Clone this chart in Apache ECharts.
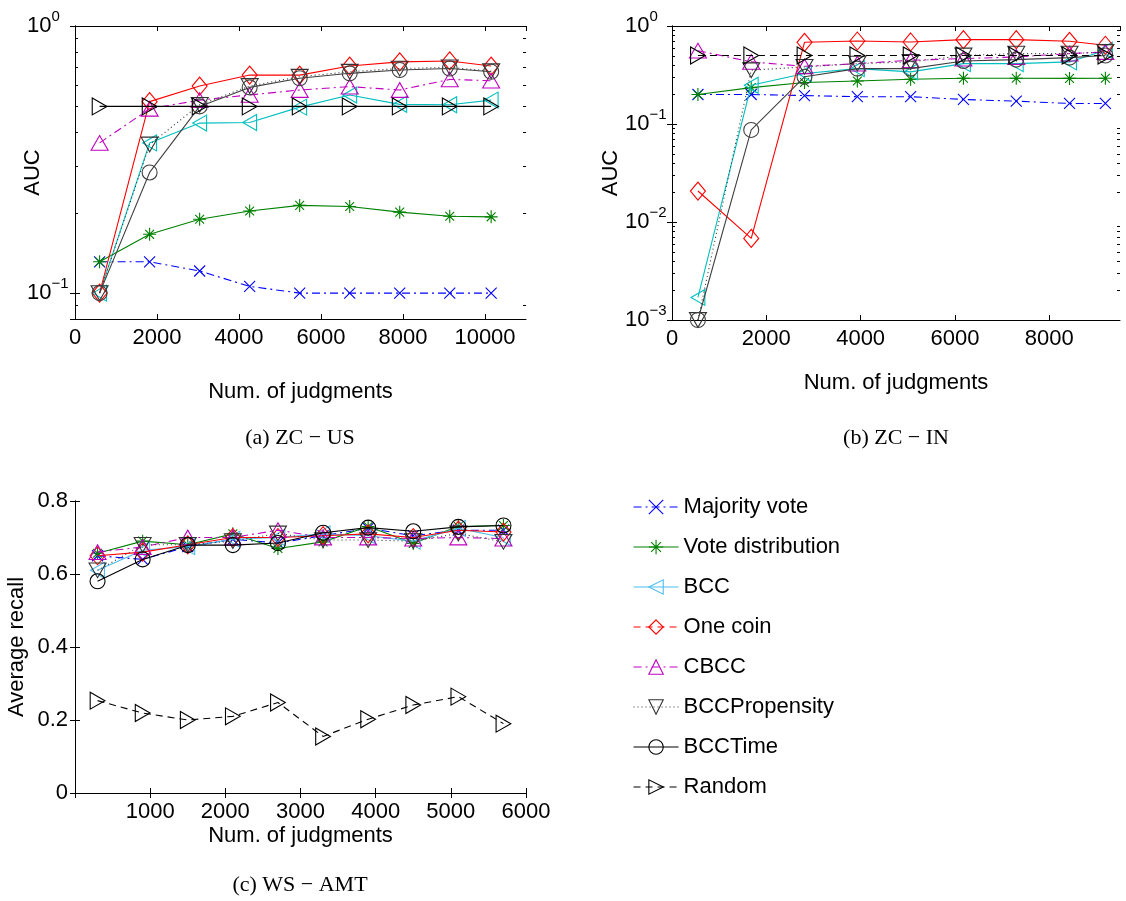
<!DOCTYPE html>
<html>
<head>
<meta charset="utf-8">
<script src="https://cdn.jsdelivr.net/npm/echarts@6/dist/echarts.min.js"></script>
<style>
html,body{margin:0;padding:0;background:#fff;}
#chart{width:1126px;height:901px;}
</style>
</head>
<body>
<div id="chart"></div>
<script>
// ---------------- DATA ----------------
const seriesNames = ['Majority vote','Vote distribution','BCC','One coin','CBCC','BCCPropensity','BCCTime','Random'];

// (a) ZC - US
const xA = [600, 1820, 3040, 4260, 5480, 6700, 7920, 9140, 10150];
const mvA   = [0.131, 0.131, 0.121, 0.106, 0.1, 0.1, 0.1, 0.1, 0.1];
const vdA   = [0.131, 0.166, 0.189, 0.203, 0.213, 0.211, 0.201, 0.194, 0.193];
const bccA  = [0.1, 0.365, 0.433, 0.435, 0.497, 0.552, 0.509, 0.507, 0.528];
const ocA   = [0.1, 0.521, 0.596, 0.655, 0.655, 0.708, 0.734, 0.74, 0.708];
const cbccA = [0.365, 0.49, 0.528, 0.552, 0.576, 0.593, 0.576, 0.631, 0.624];
const propA = [0.1, 0.36, 0.507, 0.596, 0.646, 0.674, 0.693, 0.70, 0.677];
const timeA = [0.1, 0.283, 0.5, 0.589, 0.637, 0.665, 0.684, 0.693, 0.674];
const randA = [0.5, 0.5, 0.5, 0.5, 0.5, 0.5, 0.5, 0.5, 0.5];

// (b) ZC - IN
const xB = [550, 1680, 2810, 3930, 5060, 6180, 7300, 8430, 9190];
const mvB   = [0.2, 0.2, 0.195, 0.19, 0.19, 0.178, 0.171, 0.162, 0.162];
const vdB   = [0.2, 0.235, 0.265, 0.275, 0.286, 0.293, 0.293, 0.292, 0.293];
const bccB  = [0.0017, 0.249, 0.327, 0.367, 0.34, 0.413, 0.413, 0.43, 0.565];
const ocB   = [0.0207, 0.0068, 0.682, 0.703, 0.687, 0.726, 0.726, 0.698, 0.636];
const cbccB = [0.56, 0.43, 0.388, 0.413, 0.447, 0.465, 0.483, 0.523, 0.543];
const propB = [0.001, 0.354, 0.383, 0.413, 0.43, 0.5, 0.523, 0.523, 0.543];
const timeB = [0.001, 0.087, 0.303, 0.367, 0.367, 0.44, 0.454, 0.476, 0.5];
const randB = [0.5, 0.5, 0.5, 0.5, 0.5, 0.5, 0.5, 0.5, 0.5];

// (c) WS - AMT
const xC = [300, 900, 1500, 2100, 2700, 3300, 3900, 4500, 5100, 5700];
const mvC   = [0.65, 0.64, 0.675, 0.695, 0.685, 0.705, 0.725, 0.705, 0.72, 0.72];
const vdC   = [0.657, 0.69, 0.68, 0.71, 0.67, 0.688, 0.73, 0.684, 0.73, 0.733];
const bccC  = [0.61, 0.665, 0.675, 0.695, 0.70, 0.71, 0.705, 0.69, 0.725, 0.70];
const ocC   = [0.65, 0.66, 0.68, 0.70, 0.70, 0.705, 0.71, 0.70, 0.72, 0.715];
const cbccC = [0.66, 0.674, 0.70, 0.70, 0.72, 0.70, 0.70, 0.697, 0.70, 0.697];
const propC = [0.61, 0.68, 0.68, 0.69, 0.711, 0.693, 0.693, 0.69, 0.711, 0.688];
const timeC = [0.58, 0.64, 0.679, 0.679, 0.685, 0.713, 0.727, 0.717, 0.729, 0.733];
const randC = [0.253, 0.219, 0.2, 0.21, 0.248, 0.155, 0.202, 0.241, 0.264, 0.19];

// tick settings
const xTicksA = {min: 0, max: 11000, interval: 2000};
const xTicksB = {min: 0, max: 9500, interval: 2000};
const xTicksC = {min: 0, max: 6000, interval: 1000};
const yRangeA = {min: 0.08, max: 1};
const yRangeB = {min: 0.001, max: 1};
const yTicksC = {min: 0, max: 0.8, interval: 0.2};
const minorMantissas = [2, 3, 4, 5, 6, 7, 8, 9];

// ---------------- STYLES ----------------
const SANS = 'Liberation Sans, Arial, Helvetica, sans-serif';
const SERIF = 'Liberation Serif, Times New Roman, serif';
const SYM = {
  x: 'path://M0,0L10,10M10,0L0,10',
  star: 'path://M5,0L5,10M0,5L10,5M1.6,1.6L8.4,8.4M8.4,1.6L1.6,8.4',
  left: 'path://M0,5L8.66,0L8.66,10Z',
  right: 'path://M8.66,5L0,0L0,10Z',
  up: 'path://M5,0L10,8.66L0,8.66Z',
  down: 'path://M0,0L10,0L5,8.66Z',
  diamond: 'path://M5,0L10,6L5,12L0,6Z',
  circle: 'circle'
};
const DASHDOT = [8, 4, 2, 4];
const DOT = [1, 3];
const DASH = [7, 5];

function style(name, panel) {
  switch (name) {
    case 'Majority vote': return {c: '#0000ff', sym: SYM.x, size: 11, type: DASHDOT};
    case 'Vote distribution': return {c: '#008000', sym: SYM.star, size: 13, type: 'solid'};
    case 'BCC': return {c: panel === 2 ? '#4dbeee' : '#00bfbf', sym: SYM.left, size: 16, type: 'solid'};
    case 'One coin': return {c: '#ff0000', sym: SYM.diamond, size: 18, type: 'solid'};
    case 'CBCC': return {c: '#bf00bf', sym: SYM.up, size: 17, type: DASHDOT};
    case 'BCCPropensity': return {c: '#333333', sym: SYM.down, size: 17, type: DOT};
    case 'BCCTime': return {c: panel === 2 ? '#000000' : '#404040', sym: SYM.circle, size: 15, type: 'solid'};
    case 'Random': return {c: '#000000', sym: SYM.right, size: 17, type: panel === 0 ? 'solid' : DASH};
  }
}

const panelData = [
  {xs: xA, ys: [mvA, vdA, bccA, ocA, cbccA, propA, timeA, randA]},
  {xs: xB, ys: [mvB, vdB, bccB, ocB, cbccB, propB, timeB, randB]},
  {xs: xC, ys: [mvC, vdC, bccC, ocC, cbccC, propC, timeC, randC]}
];

const grids = [
  {left: 75, top: 26, width: 451, height: 293},
  {left: 672, top: 26, width: 448, height: 294},
  {left: 75, top: 501, width: 451, height: 292}
];

function logLabel(v) {
  const l = Math.log10(v);
  const e = Math.round(l);
  if (Math.abs(l - e) > 1e-6) return '';
  return '{n|10}{e|' + (e < 0 ? '\u2212' + (-e) : String(e)) + '}';
}
const logRich = {
  n: {fontSize: 22, fontFamily: SANS, color: '#000'},
  e: {fontSize: 15, fontFamily: SANS, color: '#000', padding: [0, 0, 18, 0]}
};
const plainLabel = v => String(v);

const axisLine = {show: true, lineStyle: {color: '#000', width: 1}};
const tickIn = {show: true, inside: true, length: 5, lineStyle: {color: '#000', width: 1}};
const lblFont = {fontSize: 22, fontFamily: SANS, color: '#000'};
const nameFont = {fontSize: 22, fontFamily: SANS, color: '#000'};

const xAxes = [], yAxes = [];
const xT = [xTicksA, xTicksB, xTicksC];
const xNameGap = [62, 52, 32];
for (let g = 0; g < 3; g++) {
  xAxes.push(Object.assign({
    type: 'value', gridIndex: g, position: 'bottom',
    axisLine, axisTick: tickIn, splitLine: {show: false},
    axisLabel: Object.assign({margin: 8, formatter: plainLabel, showMaxLabel: g === 2, showMinLabel: g !== 2}, lblFont),
    name: 'Num. of judgments', nameLocation: 'middle', nameGap: xNameGap[g], nameMoveOverlap: false,
    nameTextStyle: nameFont
  }, xT[g]));
  xAxes.push(Object.assign({
    type: 'value', gridIndex: g, position: 'top',
    axisLine, axisTick: tickIn, splitLine: {show: false}, axisLabel: {show: false}
  }, xT[g]));
}
// y axes
yAxes.push(Object.assign({
  type: 'log', logBase: 10, gridIndex: 0, position: 'left',
  axisLine, axisTick: tickIn, splitLine: {show: false},
  axisLabel: {formatter: logLabel, rich: logRich, align: 'left', margin: 48},
  name: 'AUC', nameLocation: 'middle', nameGap: 31, nameMoveOverlap: false,
  nameTextStyle: nameFont
}, yRangeA));
yAxes.push(Object.assign({
  type: 'log', logBase: 10, gridIndex: 0, position: 'right',
  axisLine, axisTick: tickIn, splitLine: {show: false}, axisLabel: {show: false}
}, yRangeA));
yAxes.push(Object.assign({
  type: 'log', logBase: 10, gridIndex: 1, position: 'left',
  axisLine, axisTick: tickIn, splitLine: {show: false},
  axisLabel: {formatter: logLabel, rich: logRich, align: 'left', margin: 47},
  name: 'AUC', nameLocation: 'middle', nameGap: 50, nameMoveOverlap: false,
  nameTextStyle: nameFont
}, yRangeB));
yAxes.push(Object.assign({
  type: 'log', logBase: 10, gridIndex: 1, position: 'right',
  axisLine, axisTick: tickIn, splitLine: {show: false}, axisLabel: {show: false}
}, yRangeB));
yAxes.push(Object.assign({
  type: 'value', gridIndex: 2, position: 'left',
  axisLine, axisTick: tickIn, splitLine: {show: false},
  axisLabel: Object.assign({margin: 7, formatter: plainLabel}, lblFont),
  name: 'Average recall', nameLocation: 'middle', nameGap: 47, nameMoveOverlap: false,
  nameTextStyle: nameFont
}, yTicksC));
yAxes.push(Object.assign({
  type: 'value', gridIndex: 2, position: 'right',
  axisLine, axisTick: tickIn, splitLine: {show: false}, axisLabel: {show: false}
}, yTicksC));

// series
const series = [];
for (let g = 0; g < 3; g++) {
  const pd = panelData[g];
  seriesNames.forEach((name, k) => {
    const st = style(name, g);
    series.push({
      type: 'line', name,
      xAxisIndex: 2 * g, yAxisIndex: 2 * g,
      data: pd.xs.map((x, i) => [x, pd.ys[k][i]]),
      symbol: st.sym, symbolSize: st.size, symbolKeepAspect: true,
      showAllSymbol: true, clip: false, silent: true, animation: false,
      lineStyle: {color: st.c, width: 1.1, type: st.type},
      itemStyle: {color: 'rgba(0,0,0,0)', borderColor: st.c, borderWidth: 1.1},
      emphasis: {disabled: true},
      z: 2 + k
    });
  });
}

// minor log ticks (axis decoration) for panels a and b
function minorSeries(g, range, xr) {
  const vals = [];
  for (let e = Math.floor(Math.log10(range.min)); e < Math.round(Math.log10(range.max)); e++) {
    minorMantissas.forEach(m => {
      const v = m * Math.pow(10, e);
      if (v > range.min * 1.0001 && v < range.max) vals.push(v);
    });
  }
  return {
    type: 'custom', xAxisIndex: 2 * g, yAxisIndex: 2 * g, silent: true, animation: false,
    data: vals.map(v => [xr.min, v]), z: 1, clip: false,
    renderItem: function (params, api) {
      const v = api.value(1);
      const pL = api.coord([xr.min, v]);
      const pR = api.coord([xr.max, v]);
      const yy = Math.round(pL[1]) + 0.5;
      return {type: 'group', children: [
        {type: 'line', shape: {x1: pL[0], y1: yy, x2: pL[0] + 3, y2: yy}, style: {stroke: '#000', lineWidth: 1}},
        {type: 'line', shape: {x1: pR[0] - 3, y1: yy, x2: pR[0], y2: yy}, style: {stroke: '#000', lineWidth: 1}}
      ]};
    }
  };
}
series.push(minorSeries(0, yRangeA, xTicksA));
series.push(minorSeries(1, yRangeB, xTicksB));

// legend items (styles as in legend of the figure)
const legendData = seriesNames.map(name => {
  const st = style(name, 2);
  let lt = st.type;
  if (name === 'One coin' || name === 'Random') lt = DASH;
  return {
    name,
    itemStyle: {color: 'rgba(0,0,0,0)', borderColor: st.c, borderWidth: 1.1},
    lineStyle: {color: st.c, width: 1.1, type: lt}
  };
});

const option = {
  animation: false,
  backgroundColor: '#fff',
  grid: grids,
  xAxis: xAxes,
  yAxis: yAxes,
  legend: {
    data: legendData, orient: 'vertical', left: 633, top: 496, padding: 0,
    itemWidth: 45, itemHeight: 18, itemGap: 18,
    textStyle: {fontSize: 22, fontFamily: SANS, color: '#000', lineHeight: 22},
    selectedMode: false
  },
  graphic: [
    {type: 'text', x: 300, y: 438, style: {text: '(a) ZC \u2212 US', font: '22px ' + SERIF, fill: '#000', align: 'center', verticalAlign: 'middle'}},
    {type: 'text', x: 896, y: 438, style: {text: '(b) ZC \u2212 IN', font: '22px ' + SERIF, fill: '#000', align: 'center', verticalAlign: 'middle'}},
    {type: 'text', x: 300, y: 885, style: {text: '(c) WS \u2212 AMT', font: '22px ' + SERIF, fill: '#000', align: 'center', verticalAlign: 'middle'}}
  ],
  series
};

const chart = echarts.init(document.getElementById('chart'), null, {renderer: 'canvas'});
chart.setOption(option);
</script>
</body>
</html>
